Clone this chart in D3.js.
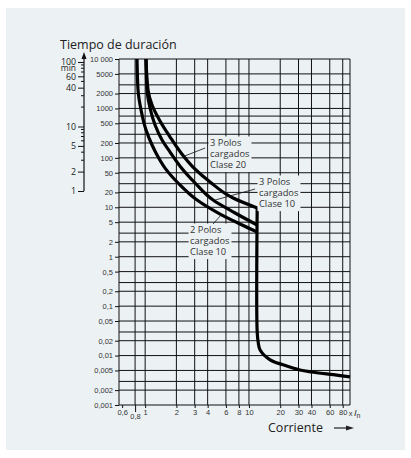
<!DOCTYPE html>
<html>
<head>
<meta charset="utf-8">
<script src="https://cdn.jsdelivr.net/npm/d3@7"></script>
<style>
  html, body { margin: 0; padding: 0; background: #fff; }
  svg { display: block; }
</style>
</head>
<body>
<svg id="chart" width="411" height="458"></svg>
<script>
// ---- data (multiple of In, seconds) ----
const xTicks = [0.6, 0.8, 1, 2, 3, 4, 6, 8, 10, 20, 30, 40, 60, 80];
const xTickLabels = ['0,6', '0,8', '1', '2', '3', '4', '6', '8', '10', '20', '30', '40', '60', '80'];
const xGrid = [0.8, 1, 2, 3, 4, 6, 8, 10, 20, 30, 40, 60, 80];

const yTicks = [10000, 5000, 2000, 1000, 500, 200, 100, 50, 20, 10, 5, 2, 1,
  0.5, 0.2, 0.1, 0.05, 0.02, 0.01, 0.005, 0.002, 0.001];
const yTickLabels = ['10 000', '5000', '2000', '1000', '500', '200', '100', '50', '20', '10', '5', '2', '1',
  '0,5', '0,2', '0,1', '0,05', '0,02', '0,01', '0,005', '0,002', '0,001'];
const yExtraGrid = [3000, 700, 300, 30, 3, 0.3, 0.03, 0.003];

const minTicks = [1, 2, 5, 10, 40, 60, 100];
const minMinor = [3, 4, 6, 7, 8, 9, 20, 30, 50, 70, 80, 90];

// trip curves [current multiple, seconds]
const twoPoles10 = [[0.835, 10000], [0.854, 2360], [0.913, 930], [1.02, 366], [1.166, 182], [1.302, 114],
  [1.555, 62], [2.075, 31], [3.16, 14], [5.27, 7.3], [8.2, 4.6], [12, 3.16]];
const threePoles10 = [[1.02, 10000], [1.043, 2360], [1.115, 1020], [1.246, 462], [1.455, 230], [1.738, 131],
  [2.17, 68], [3.03, 31], [4.51, 14], [7.35, 7.66], [12, 4.38]];
const threePoles20 = [[1.02, 10000], [1.066, 2360], [1.166, 1173], [1.39, 557], [1.738, 264], [2.22, 125],
  [2.89, 65], [4.22, 32.5], [7.03, 15.4], [12, 9.7]];
const instantTrip = [[12, 9.7], [12, 0.03], [12.3, 0.018], [12.8, 0.013], [16, 0.0082], [21.3, 0.0065],
  [31, 0.0051], [45, 0.0045], [65, 0.0041], [94, 0.0037]];

// annotations: text anchor and leader line, in data units
const notes = [
  { lines: ['3 Polos', 'cargados', 'Clase 20'], at: [4.22, 170], leader: [[3.78, 158], [2.27, 104]] },
  { lines: ['3 Polos', 'cargados', 'Clase 10'], at: [12.5, 27.6], leader: [[11.45, 23.4], [4.71, 14.0]] },
  { lines: ['2 Polos', 'cargados', 'Clase 10'], at: [2.71, 2.95], leader: [[4.51, 4.59], [5.39, 6.98]] }
];

// ---- layout ----
const PANEL = '#ecf1f4';
const INK = '#111';
const TICK_FONT = '"Liberation Sans", Arial, sans-serif';
const TEXT_FONT = '"Open Sans", "Noto Sans", sans-serif';

const svg = d3.select('#chart');

svg.append('rect')
    .attr('x', 6).attr('y', 8)
    .attr('width', 399).attr('height', 442)
    .attr('fill', PANEL);

const x = d3.scaleLog().domain([0.56, 94]).range([119, 350]);
const y = d3.scaleLog().domain([0.001, 10000]).range([405, 59]);
const yMin = d3.scaleLog().domain([1, 100]).range([191, 62]);

const [x0, x1] = x.range();
const [yb, yt] = y.range();

// grid
const grid = svg.append('g').attr('stroke', INK).attr('stroke-width', 1);
xGrid.forEach(v => {
  grid.append('line')
      .attr('x1', x(v)).attr('x2', x(v))
      .attr('y1', yt).attr('y2', yb);
});
yTicks.concat(yExtraGrid).forEach(v => {
  grid.append('line')
      .attr('x1', x0).attr('x2', x1)
      .attr('y1', y(v)).attr('y2', y(v));
});
grid.append('line').attr('x1', x0).attr('x2', x0).attr('y1', yt).attr('y2', yb);
grid.append('line').attr('x1', x1).attr('x2', x1).attr('y1', yt).attr('y2', yb);

// axes
const gx = svg.append('g')
    .attr('transform', `translate(0,${yb})`)
    .call(d3.axisBottom(x).tickValues(xTicks)
      .tickFormat((d, i) => xTickLabels[i])
      .tickSize(3).tickPadding(2).tickSizeOuter(0));
gx.select('.domain').remove();
gx.attr('font-family', TICK_FONT).attr('font-size', 7.5);
gx.selectAll('line').attr('stroke', INK);
gx.selectAll('text').attr('fill', '#333');
gx.selectAll('.tick').filter(d => d === 0.8).select('text').attr('y', 9);
gx.selectAll('.tick').filter(d => d === 0.8).select('line').attr('y2', 7);

const gy = svg.append('g')
    .attr('transform', `translate(${x0},0)`)
    .call(d3.axisLeft(y).tickValues(yTicks)
      .tickFormat((d, i) => yTickLabels[i])
      .tickSize(4).tickPadding(2).tickSizeOuter(0));
gy.select('.domain').remove();
gy.attr('font-family', TICK_FONT).attr('font-size', 7.5);
gy.selectAll('line').attr('stroke', INK);
gy.selectAll('text').attr('fill', '#333');

// x In after last tick
const unit = svg.append('text')
    .attr('x', x(80) + 6).attr('y', yb + 10.5)
    .attr('font-family', TICK_FONT).attr('font-size', 7.5).attr('fill', '#333');
unit.append('tspan').text('x');
unit.append('tspan').attr('dx', 1.5).attr('font-size', 9.5).attr('font-style', 'italic').text('I');
unit.append('tspan').attr('dy', 2.5).attr('font-size', 7).text('n');

// minutes axis
const mx = 84;
const gm = svg.append('g')
    .attr('transform', `translate(${mx},0)`)
    .call(d3.axisLeft(yMin).tickValues(minTicks)
      .tickFormat(d3.format('d'))
      .tickSize(6).tickPadding(2).tickSizeOuter(0));
gm.select('.domain').remove();
gm.attr('font-family', TEXT_FONT).attr('font-size', 8.8);
gm.selectAll('line').attr('stroke', INK);
gm.selectAll('text').attr('fill', '#222');
minMinor.forEach(v => {
  gm.append('line')
      .attr('x1', -3).attr('x2', 0)
      .attr('y1', yMin(v)).attr('y2', yMin(v))
      .attr('stroke', INK);
});
gm.append('line')
    .attr('x1', 0).attr('x2', 0)
    .attr('y1', yMin(1)).attr('y2', yt - 2)
    .attr('stroke', INK).attr('stroke-width', 1.2);
gm.append('path')
    .attr('d', `M0,${yt - 7}L-2.5,${yt}L2.5,${yt}Z`)
    .attr('fill', INK);
gm.append('text')
    .attr('x', -8).attr('y', yMin(100) + 9)
    .attr('text-anchor', 'end')
    .attr('font-size', 8.5).attr('fill', '#222')
    .text('min');

// titles
svg.append('text')
    .attr('x', 60).attr('y', 49)
    .attr('font-family', TEXT_FONT).attr('font-size', 12.5).attr('fill', '#222')
    .text('Tiempo de duración');

svg.append('text')
    .attr('x', 268).attr('y', 432)
    .attr('font-family', TEXT_FONT).attr('font-size', 12.5).attr('fill', '#222')
    .text('Corriente');
svg.append('line')
    .attr('x1', 334).attr('x2', 348)
    .attr('y1', 428).attr('y2', 428)
    .attr('stroke', '#222').attr('stroke-width', 1.2);
svg.append('path')
    .attr('d', 'M354,428L346,425.5L346,430.5Z')
    .attr('fill', '#222');

// curves
const tripLine = d3.line()
    .x(d => x(d[0]))
    .y(d => y(d[1]))
    .curve(d3.curveMonotoneY);
const tailLine = d3.line()
    .x(d => x(d[0]))
    .y(d => y(d[1]))
    .curve(d3.curveCatmullRom.alpha(0.5));

[twoPoles10, threePoles10, threePoles20].forEach(series => {
  svg.append('path')
      .datum(series)
      .attr('d', tripLine)
      .attr('fill', 'none')
      .attr('stroke', '#000')
      .attr('stroke-width', 3.2);
});
svg.append('path')
    .datum(instantTrip)
    .attr('d', tailLine)
    .attr('fill', 'none')
    .attr('stroke', '#000')
    .attr('stroke-width', 3.2);

// annotations
notes.forEach(n => {
  const g = svg.append('g');
  const t = g.append('text')
      .attr('font-family', TEXT_FONT).attr('font-size', 9.3).attr('fill', '#333');
  n.lines.forEach((s, i) => {
    t.append('tspan')
        .attr('x', x(n.at[0]))
        .attr('y', y(n.at[1]) + i * 10.8)
        .text(s);
  });
  const bb = t.node().getBBox();
  g.insert('rect', 'text')
      .attr('x', bb.x - 1.5).attr('y', bb.y)
      .attr('width', bb.width + 3).attr('height', bb.height + 1)
      .attr('fill', PANEL);
  g.append('line')
      .attr('x1', x(n.leader[0][0])).attr('y1', y(n.leader[0][1]))
      .attr('x2', x(n.leader[1][0])).attr('y2', y(n.leader[1][1]))
      .attr('stroke', INK).attr('stroke-width', 0.8);
});
</script>
</body>
</html>
